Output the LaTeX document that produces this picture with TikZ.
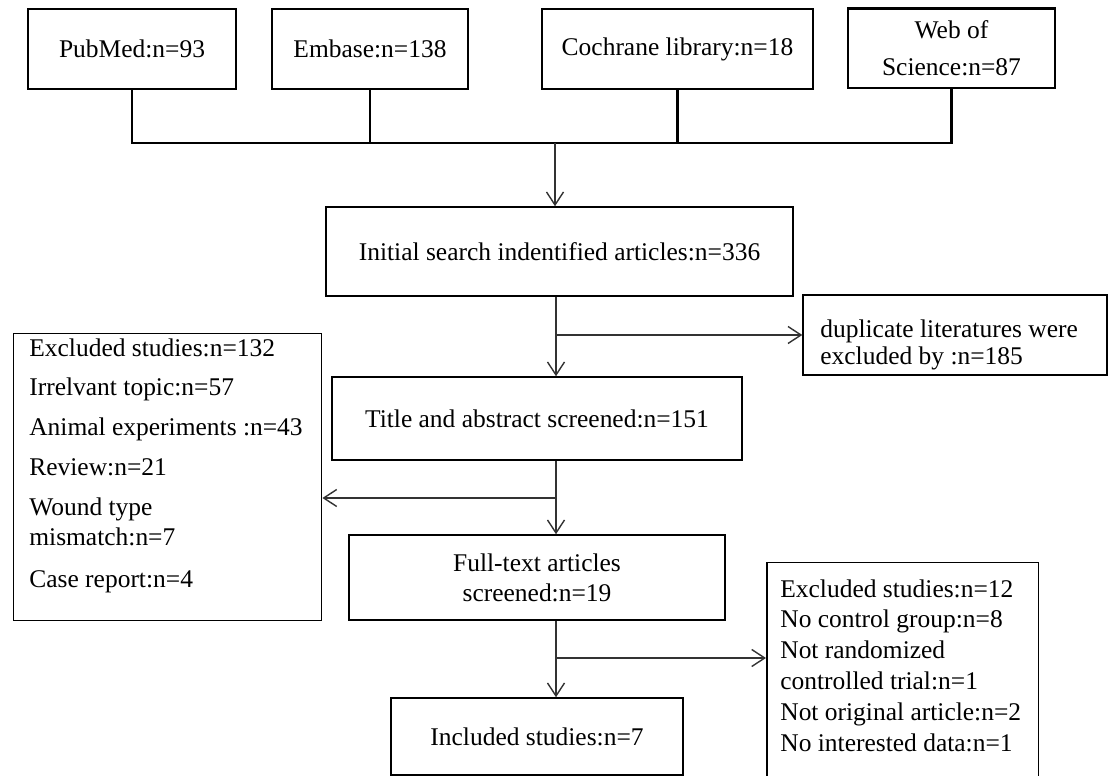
\documentclass[tikz,border=0pt]{standalone}
\usepackage{fontspec}
\setmainfont{Liberation Serif}
\usetikzlibrary{arrows.meta}
\newcommand{\flowfont}{\fontsize{14.5}{17}\selectfont}
\tikzset{
  box/.style={draw, line width=0.85pt, fill=white, inner sep=0pt, align=center, font=\flowfont},
  srcbox/.style={box, line width=1.15pt, minimum height=1.6cm},
  txt/.style={inner sep=0pt, align=left, anchor=north west, font=\flowfont},
  trunk/.style={line width=1.4pt, black},
  arr/.style={line width=0.8pt, black!80, -{Straight Barb[length=2.6mm, width=3.4mm]}}
}
\begin{document}
\begin{tikzpicture}[x=0.02cm, y=-0.02cm]
\useasboundingbox (0,0) rectangle (1109,776);
\node[srcbox, minimum width=4.16cm] (pub) at (132,49) {PubMed:n=93};
\node[srcbox, minimum width=3.92cm] (emb) at (370,49) {Embase:n=138};
\node[srcbox, minimum width=5.42cm] (coch) at (677.5,49) {Cochrane library:n=18};
\node[srcbox, minimum width=4.14cm] (wos) at (951.5,48.5) {Web of\\[4pt]Science:n=87};
\node[box, minimum width=9.34cm, minimum height=1.78cm] (init) at (559.5,251.5) {Initial search indentified articles:n=336};
\node[box, minimum width=6.08cm, minimum height=1.6cm] (dup) at (955,335) {};
\node[txt, font=\fontsize{14.5}{15.5}\selectfont] (duptxt) at (820,319) {duplicate literatures were\\excluded by :n=185};
\node[box, minimum width=8.2cm, minimum height=1.66cm] (title) at (537,418.5) {Title and abstract screened:n=151};
\node[box, minimum width=6.16cm, minimum height=5.74cm, anchor=north west] (excla) at (13,333) {};
\node[txt] (exclatxt) at (29,338) {Excluded studies:n=132\\[5.7pt]Irrelvant topic:n=57\\[5.7pt]Animal experiments :n=43\\[5.7pt]Review:n=21\\[5.7pt]Wound type\\mismatch:n=7\\[7pt]Case report:n=4};
\node[box, minimum width=7.52cm, minimum height=1.7cm] (full) at (537,577.5) {Full-text articles\\screened:n=19};
\node[box, minimum width=5.84cm, minimum height=1.54cm] (incl) at (537,736.5) {Included studies:n=7};
\node[box, minimum width=5.44cm, minimum height=4.6cm, anchor=north west] (exclb) at (766,562) {};
\node[txt, font=\fontsize{14.5}{17.6}\selectfont] (exclbtxt) at (780,579) {Excluded studies:n=12\\No control group:n=8\\Not randomized\\controlled trial:n=1\\Not original article:n=2\\No interested data:n=1};
\coordinate (hub) at (555,143); \coordinate (spine) at (556,0);
\draw[trunk] (pub.south) -- (pub.south |- hub) -- (wos.south |- hub) -- (wos.south);
\foreach \n in {emb,coch} \draw[trunk] (\n.south) -- (\n.south |- hub);
\draw[arr] (hub) -- (hub |- init.north);
\draw[arr] (init.south -| spine) -- (title.north -| spine); \draw[arr] (spine |- dup.west) -- (dup.west);
\draw[arr] (title.south -| spine) -- (full.north -| spine);
\coordinate (ka) at (556,498); \draw[arr] (ka) -- (ka -| excla.east);
\draw[arr] (full.south -| spine) -- (incl.north -| spine);
\coordinate (kb) at (556,658); \draw[arr] (kb) -- (kb -| exclb.west);
\end{tikzpicture}
\end{document}
